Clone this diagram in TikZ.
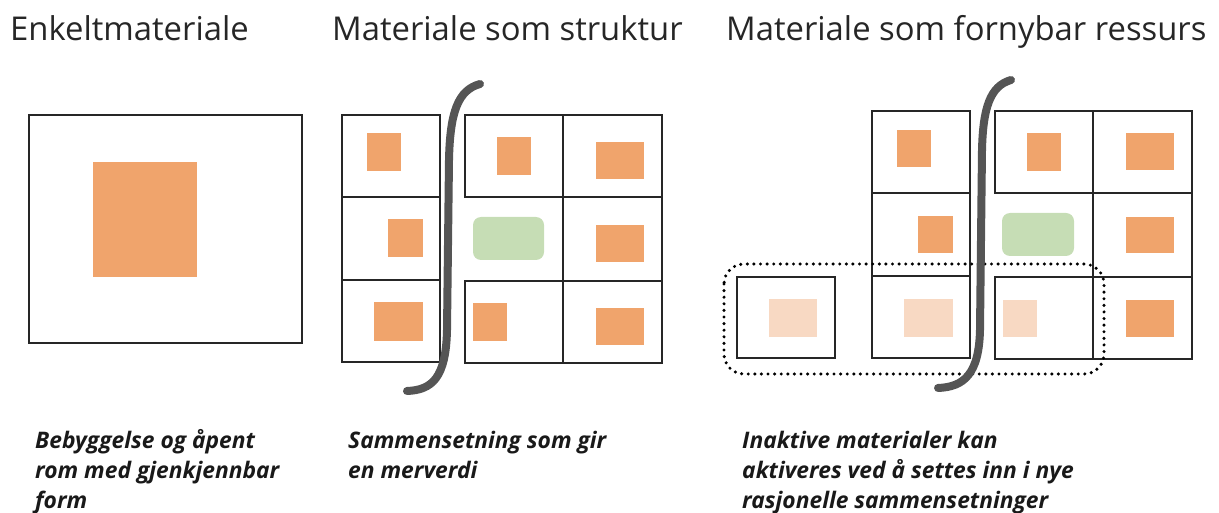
\documentclass[tikz,border=0pt]{standalone}
\usepackage{fontspec}
\setmainfont{Open Sans}
\definecolor{orangeA}{HTML}{F0A46C}
\definecolor{orangeL}{HTML}{F8D9C3}
\definecolor{greenA}{HTML}{C6DDB5}
\definecolor{curveC}{HTML}{555555}
\tikzset{
  cellbox/.style={draw=black!85, line width=1.4pt},
  orng/.style={fill=orangeA},
  orngl/.style={fill=orangeL},
  grn/.style={fill=greenA, rounded corners=8pt},
  integ/.style={draw=curveC, line width=8pt, line cap=round},
  dotted box/.style={draw=black, line width=3.4pt, line cap=round, dash pattern=on 0pt off 6.6pt, rounded corners=20pt},
  ttl/.style={anchor=base west, inner sep=0pt, font=\fontsize{32.8}{38}\selectfont, text=black!85},
  capt/.style={anchor=base west, inner sep=0pt, align=left, font=\bfseries\itshape\fontsize{22.8}{30}\selectfont, text=black!90}
}
\begin{document}
\begin{tikzpicture}[x=1pt,y=-1pt]
\useasboundingbox (0,0) rectangle (1219,513);
% titles
\node[ttl] (t1) at (10,41) {Enkeltmateriale};
\node[ttl] (t2) at (332,41) {Materiale som struktur};
\node[ttl] (t3) at (726,41) {Materiale som fornybar ressurs};
% panel 1
\draw[cellbox] (29,115) rectangle (302,343);
\fill[orng] (93,162) rectangle (197,277);
% panel 2
\draw[cellbox] (342,115) rectangle (440,197);
\draw[cellbox] (342,197) rectangle (440,280);
\draw[cellbox] (342,280) rectangle (440,362);
\draw[cellbox] (465,115) rectangle (563,197);
\draw[cellbox] (465,281) rectangle (563,363);
\draw[cellbox] (563,115) rectangle (662,197);
\draw[cellbox] (563,197) rectangle (662,281);
\draw[cellbox] (563,281) rectangle (662,363);
\fill[orng] (367,133) rectangle (401,171);
\fill[orng] (388,219) rectangle (423,257);
\fill[orng] (374,302) rectangle (423,341);
\fill[orng] (497,137) rectangle (531,175);
\fill[orng] (596,142) rectangle (644,179);
\fill[orng] (596,225) rectangle (644,262);
\fill[orng] (473,303) rectangle (507,341);
\fill[orng] (596,308) rectangle (644,345);
\fill[grn] (473,217) rectangle (544,260);
\draw[integ] (480,84) .. controls (458,90) and (450,112) .. (449,160) -- (447,330) .. controls (446,378) and (432,390) .. (407,391);
% panel 3
\draw[cellbox] (737,277) rectangle (835,358);
\draw[cellbox] (872,111) rectangle (970,193);
\draw[cellbox] (872,193) rectangle (970,276);
\draw[cellbox] (872,276) rectangle (970,358);
\draw[cellbox] (995,111) rectangle (1093,193);
\draw[cellbox] (995,277) rectangle (1093,359);
\draw[cellbox] (1093,111) rectangle (1192,193);
\draw[cellbox] (1093,193) rectangle (1192,277);
\draw[cellbox] (1093,277) rectangle (1192,359);
\fill[orng] (897,130) rectangle (931,167);
\fill[orng] (918,216) rectangle (953,253);
\fill[orng] (1027,133) rectangle (1061,171);
\fill[orng] (1126,133) rectangle (1174,170);
\fill[orng] (1126,217) rectangle (1174,253);
\fill[orng] (1126,300) rectangle (1174,337);
\fill[orngl] (769,299) rectangle (817,337);
\fill[orngl] (904,299) rectangle (953,337);
\fill[orngl] (1003,300) rectangle (1037,337);
\fill[grn] (1002,213) rectangle (1074,256);
\draw[dotted box] (724,264) rectangle (1104,374);
\draw[integ] (1011,80) .. controls (990,86) and (983,108) .. (982,150) -- (980,330) .. controls (979,374) and (964,387) .. (938,388);
% captions (base anchor = last line)
\node[capt] (c1) at (35,508) {Bebyggelse og åpent\\rom med gjenkjennbar\\form};
\node[capt] (c2) at (348,478) {Sammensetning som gir\\en merverdi};
\node[capt] (c3) at (742,508) {Inaktive materialer kan\\aktiveres ved å settes inn i nye\\rasjonelle sammensetninger};
\end{tikzpicture}
\end{document}
